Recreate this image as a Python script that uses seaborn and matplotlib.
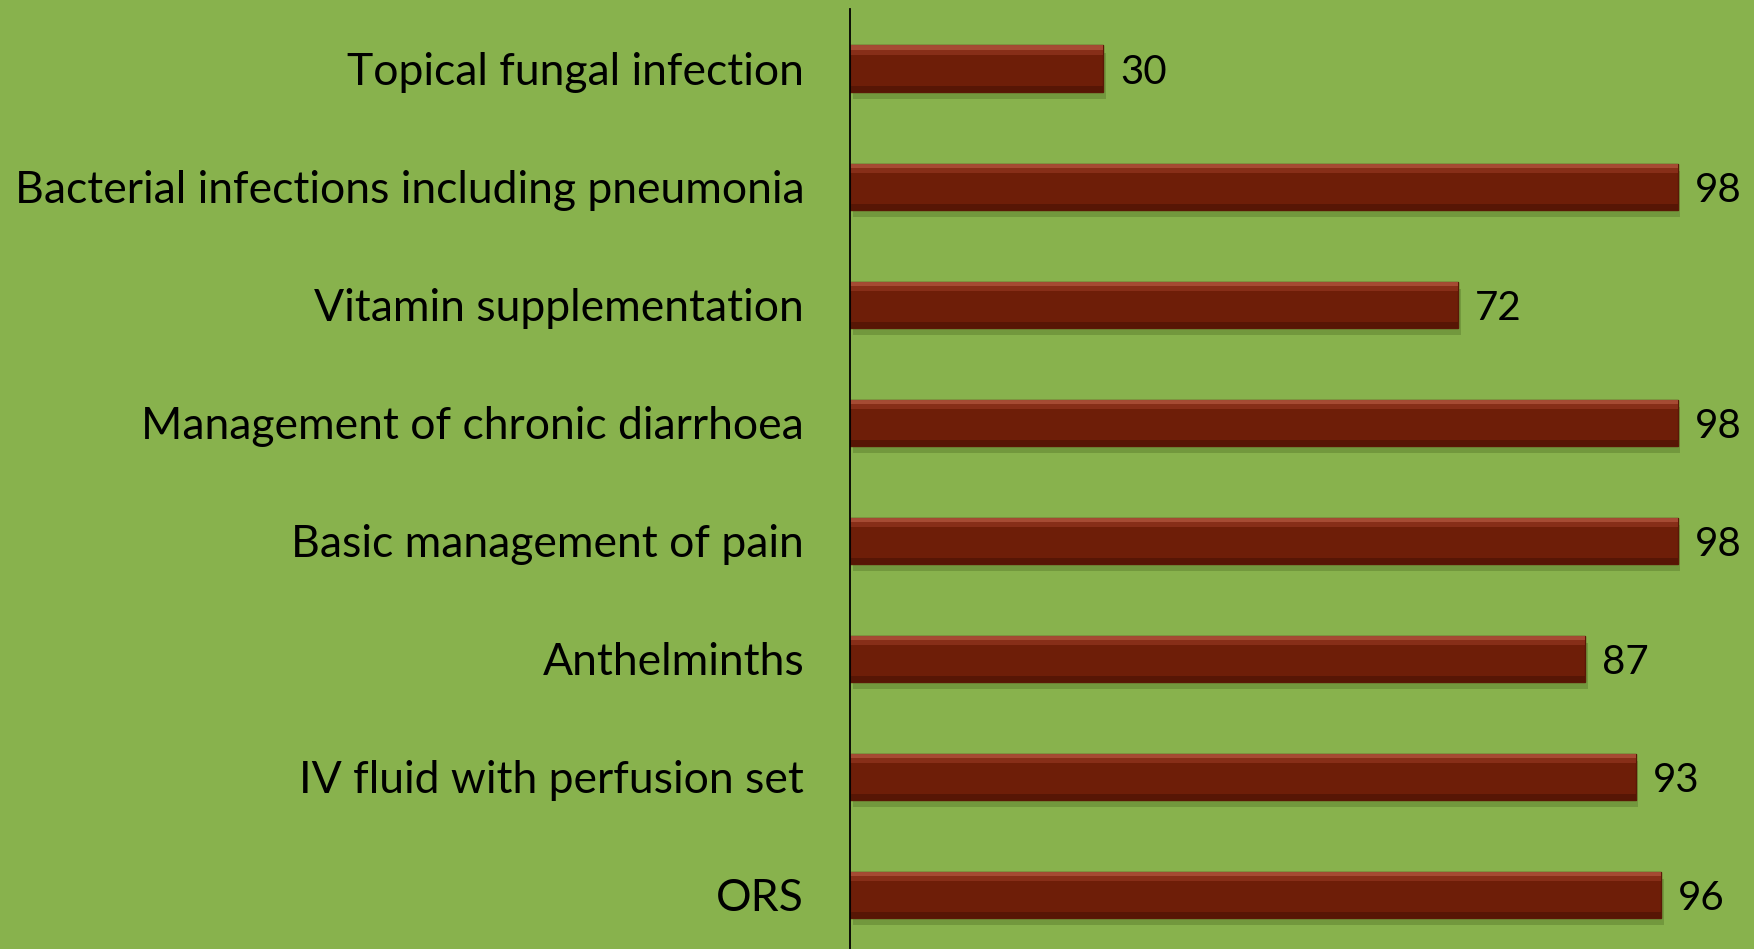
import matplotlib
matplotlib.use("Agg")
import matplotlib.pyplot as plt
import matplotlib.patches as mpatches
import pandas as pd
import seaborn as sns

categories = [
    "Topical fungal infection",
    "Bacterial infections including pneumonia",
    "Vitamin supplementation",
    "Management of chronic diarrhoea",
    "Basic management of pain",
    "Anthelminths",
    "IV fluid with perfusion set",
    "ORS",
]
values = [30, 98, 72, 98, 98, 87, 93, 96]

df = pd.DataFrame({"Item": categories, "Percent": values})

bg = "#88B24D"
bar_color = "#6E1E08"

sns.set_style("white")
plt.rcParams["font.family"] = ["Lato", "DejaVu Sans"]

fig = plt.figure(figsize=(17.54, 9.49), dpi=100, facecolor=bg)
ax = fig.add_axes([0.4846, -0.005, 0.5154, 0.995])
ax.set_facecolor(bg)

sns.barplot(data=df, x="Percent", y="Item", color=bar_color, width=0.39,
            saturation=1, ax=ax, edgecolor="#5A1806", linewidth=1)

# bevel look: shadow, top highlight, darker bottom
for p in list(ax.patches):
    x0, y0 = p.get_x(), p.get_y()
    w, h = p.get_width(), p.get_height()
    shadow = mpatches.Rectangle((x0 + 0.3, y0 + 0.06), w, h, facecolor="#5E7F2E",
                                alpha=0.5, zorder=p.get_zorder() - 0.1, linewidth=0)
    ax.add_patch(shadow)
    top = mpatches.Rectangle((x0, y0), w, h * 0.1, facecolor="#B5573F",
                             alpha=0.8, zorder=p.get_zorder() + 0.1, linewidth=0)
    ax.add_patch(top)
    top2 = mpatches.Rectangle((x0, y0 + h * 0.1), w, h * 0.1, facecolor="#93351F",
                              alpha=0.7, zorder=p.get_zorder() + 0.1, linewidth=0)
    ax.add_patch(top2)
    bottom = mpatches.Rectangle((x0, y0 + h * 0.88), w, h * 0.12, facecolor="#4E1404",
                                alpha=0.7, zorder=p.get_zorder() + 0.1, linewidth=0)
    ax.add_patch(bottom)

texts = ax.bar_label(ax.containers[0], labels=[str(v) for v in values], padding=12,
                     fontsize=29, color="black")
for t in texts:
    t.set_va("center_baseline")

ax.set_xlim(0, 107)
ax.set_xlabel("")
ax.set_ylabel("")
ax.set_xticks([])
ax.tick_params(axis="y", length=0, pad=33, labelsize=32, labelcolor="black")
for s in ["top", "right", "bottom"]:
    ax.spines[s].set_visible(False)
ax.spines["left"].set_color("black")
ax.spines["left"].set_linewidth(1.3)

fig.savefig("out.png", dpi=100, facecolor=bg)
